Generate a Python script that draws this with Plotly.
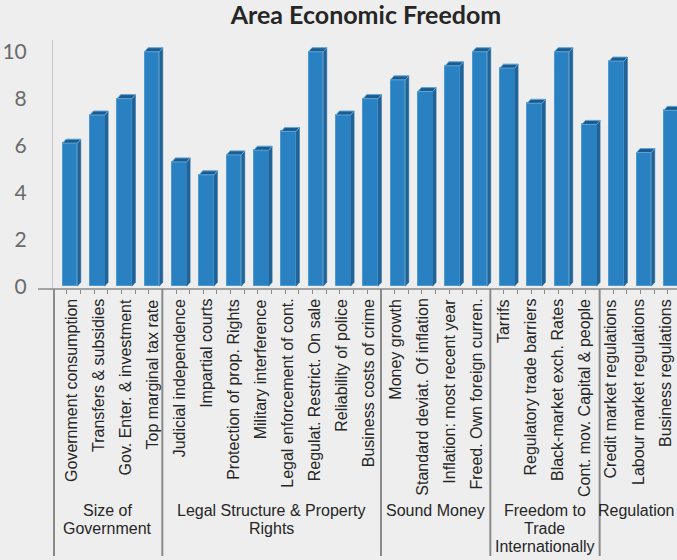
import plotly.graph_objects as go

# Indicator scores (0-10) grouped by area of economic freedom
indicators = [
    "Government consumption", "Transfers & subsidies", "Gov. Enter. & investment",
    "Top marginal tax rate",
    "Judicial independence", "Impartial courts", "Protection of prop. Rights",
    "Military interference", "Legal enforcement of cont.", "Regulat. Restrict. On sale",
    "Reliability of police", "Business costs of crime",
    "Money growth", "Standard deviat. Of inflation", "Inflation: most recent year",
    "Freed. Own foreign curren.",
    "Tarrifs", "Regulatory trade barriers", "Black-market exch. Rates",
    "Cont. mov. Capital & people",
    "Credit market regulations", "Labour market regulations", "Business regulations",
]
scores = [
    6.1, 7.3, 8.0, 10.0,
    5.3, 4.75, 5.6, 5.8, 6.6, 10.0, 7.3, 8.0,
    8.8, 8.3, 9.4, 10.0,
    9.3, 7.8, 10.0, 6.9,
    9.6, 5.7, 7.5,
]
area_sizes = [4, 8, 4, 4, 3]
area_lines = [
    ["Size of", "Government"],
    ["Legal Structure & Property", "Rights"],
    ["Sound Money"],
    ["Freedom to", "Trade", "Internationally"],
    ["Regulation"],
]
y_ticks = [0, 2, 4, 6, 8, 10]

# ---- layout geometry ----
W, H = 677, 560
M_L, M_R, M_T, M_B = 53, 0, 40, 271
plot_w, plot_h = W - M_L - M_R, H - M_T - M_B
x_range = [-0.62, 22.21]
y_range = [-0.12, 10.5]
ux = plot_w / (x_range[1] - x_range[0])   # px per category
uy = plot_h / (y_range[1] - y_range[0])   # px per score unit
shift = x_range[0] + 0.5                  # category edges sit this far left of x-0.5
label_step, label_off = 0.987, 0.055      # label pitch is a touch tighter than the columns


def below(px):
    """paper y for a pixel row below the plot area"""
    return -(px - (H - M_B)) / plot_h


bw = 0.54                     # front face width (categories)
dx, dy = 3.5 / ux, 4.0 / uy   # depth offset of the extruded column

FRONT = "#2A81C1"
SIDE = "#1F6397"
TOP = "#1D5B8C"
TOP_EDGE = "#5CA6DD"
TEXT = "#262626"
SEP = "#8A8A8A"
LABEL_FONT = dict(family="Liberation Sans, Arial", size=16, color=TEXT)

xs = list(range(len(indicators)))

fig = go.Figure()
fig.add_trace(go.Bar(
    x=xs, y=scores, width=bw,
    marker=dict(color=FRONT, line=dict(color="#4C9AD4", width=1)),
    hoverinfo="skip",
))

shapes = []
# side and top faces of each column, in data coordinates
for x, v in zip(xs, scores):
    r = x + bw / 2
    l = x - bw / 2
    shapes.append(dict(
        type="path", xref="x", yref="y", layer="above",
        path=f"M {r},{0} L {r+dx},{dy} L {r+dx},{v+dy} L {r},{v} Z",
        fillcolor=SIDE, line=dict(color="#2A6FA6", width=0.5),
    ))
    shapes.append(dict(
        type="path", xref="x", yref="y", layer="above",
        path=f"M {l},{v} L {r},{v} L {r+dx},{v+dy} L {l+dx},{v+dy} Z",
        fillcolor=TOP, line=dict(color=TOP_EDGE, width=1),
    ))

# horizontal category axis line (extends a little left of the value axis)
shapes.append(dict(type="line", xref="paper", yref="paper",
                   x0=-15 / plot_w, x1=1, y0=0, y1=0,
                   line=dict(color=SEP, width=1.5)))

# vertical separators between areas, running through the label block
sep_bottom = below(556)
shapes.append(dict(type="line", xref="paper", yref="paper",
                   x0=1 / plot_w, x1=1 / plot_w, y0=0, y1=sep_bottom,
                   line=dict(color=SEP, width=2)))
start = 0
bounds = []
for n in area_sizes:
    bounds.append((start, start + n))
    start += n
for s, e in bounds[:-1]:
    xb = e - 0.5 + shift
    shapes.append(dict(type="line", xref="x", yref="paper",
                       x0=xb, x1=xb, y0=0, y1=sep_bottom,
                       line=dict(color=SEP, width=2)))

annotations = []
# indicator names, rotated and hung from the axis
for x, name in zip(xs, indicators):
    annotations.append(dict(
        text=name, xref="x", yref="paper", x=x * label_step + label_off,
        y=below(297),
        textangle=-90, xanchor="center", yanchor="top", showarrow=False,
        font=LABEL_FONT,
    ))

# area names under the indicator labels
line_px = [510, 528, 546]
for (s, e), lines in zip(bounds, area_lines):
    left = s - 0.5 + shift
    right = min(e - 0.5 + shift, x_range[1] - 0.12)
    cx = (left + right) / 2
    for k, txt in enumerate(lines):
        annotations.append(dict(
            text=txt, xref="x", yref="paper", x=cx, y=below(line_px[k]),
            xanchor="center", yanchor="middle", showarrow=False,
            font=LABEL_FONT,
        ))

fig.update_layout(
    width=W, height=H,
    margin=dict(l=M_L, r=M_R, t=M_T, b=M_B, pad=0),
    paper_bgcolor="#EEEEEE", plot_bgcolor="#EEEEEE",
    showlegend=False,
    title=dict(
        text="<b>Area Economic Freedom</b>",
        x=366 / W, xanchor="center", xref="container",
        y=1 - 15 / H, yanchor="middle", yref="container",
        font=dict(family="Lato", size=25, color=TEXT),
    ),
    xaxis=dict(
        range=x_range, tickmode="array", tickvals=xs,
        showticklabels=False,
        ticks="", showgrid=False, zeroline=False, showline=False,
        minor=dict(ticks="outside", tick0=x_range[0], dtick=0.5, ticklen=4,
                   tickcolor=SEP, tickwidth=1, showgrid=False),
    ),
    yaxis=dict(
        range=y_range, tickmode="array", tickvals=y_ticks,
        ticks="", showgrid=False, zeroline=False,
        showline=True, linecolor="#C8C8C8", linewidth=1,
        ticklabelstandoff=21,
        tickfont=dict(family="Lato", size=21, color="#6A6A6A"),
    ),
    shapes=shapes,
    annotations=annotations,
    bargap=0,
)

fig.write_html("out.html")
